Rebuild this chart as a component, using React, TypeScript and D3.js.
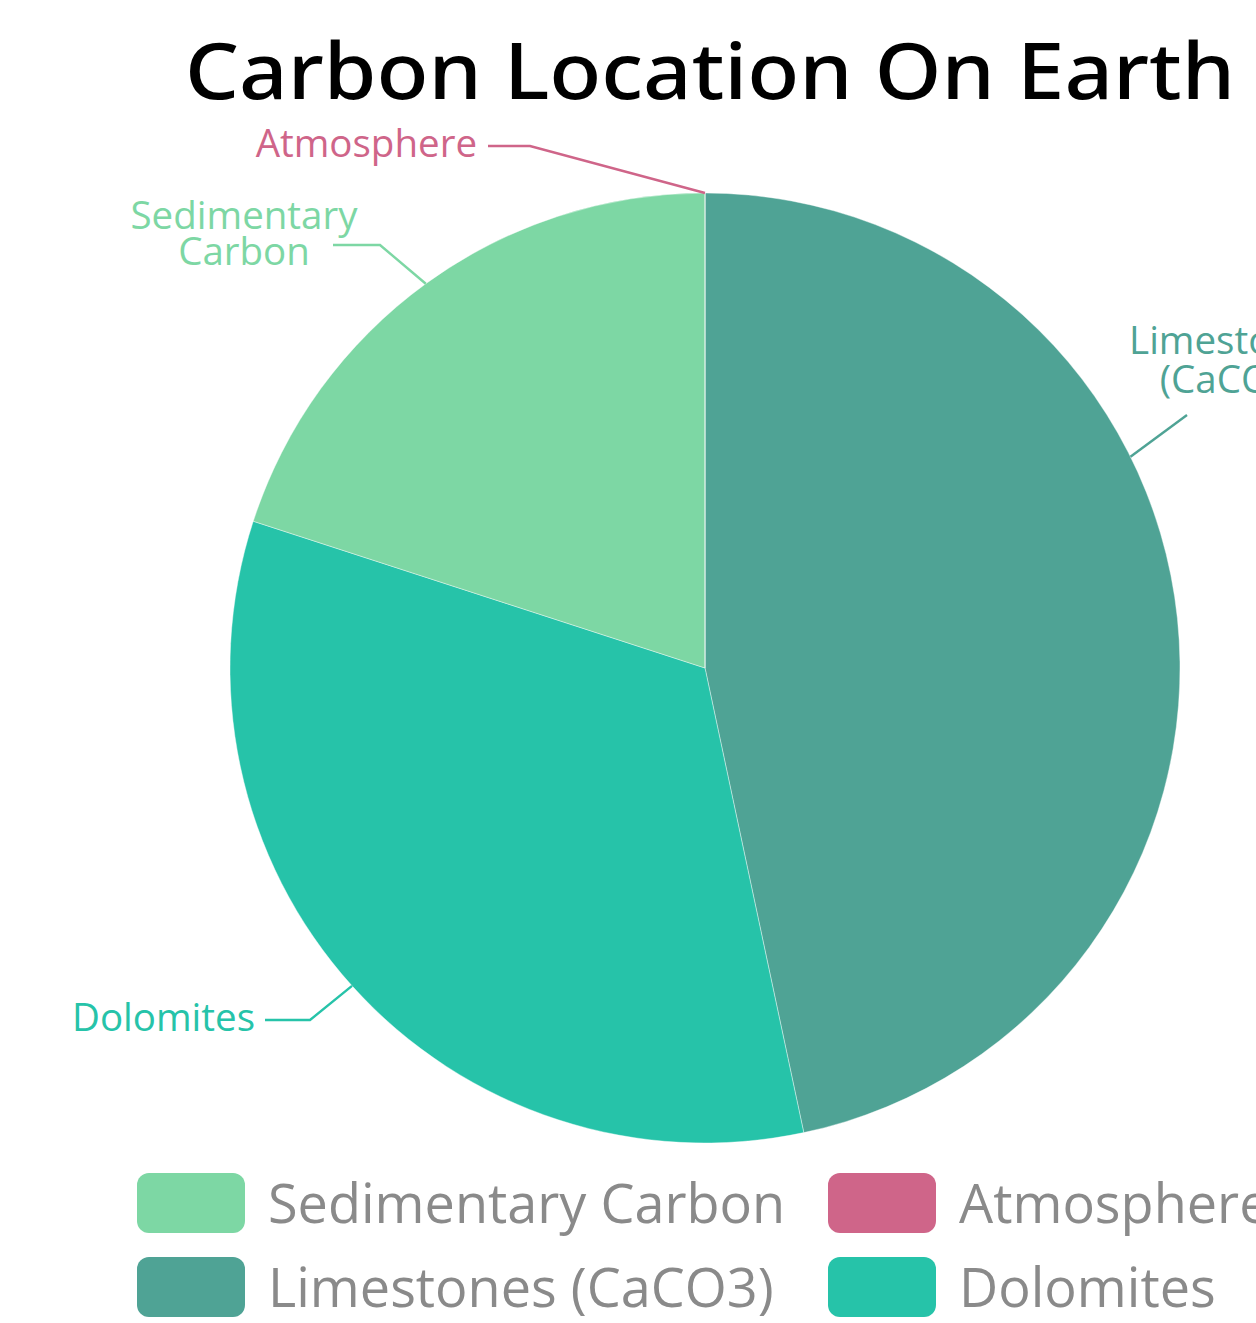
import React from "react";
import * as d3 from "d3";

// Carbon stocks (GtC) by reservoir, drawn clockwise from 12 o'clock
const SLICE_NAMES = ["Limestones (CaCO3)", "Dolomites", "Sedimentary Carbon", "Atmosphere"];
const SLICE_VALUES = [35000000, 25000000, 15000000, 720];

// Legend reads row by row, two columns
const LEGEND_NAMES = ["Sedimentary Carbon", "Atmosphere", "Limestones (CaCO3)", "Dolomites"];

const COLORS: Record<string, string> = {
  "Sedimentary Carbon": "#7dd7a4",
  Atmosphere: "#cf6589",
  "Limestones (CaCO3)": "#4fa395",
  Dolomites: "#26c3a9",
};

const TITLE = "Carbon Location On Earth";

const W = 1256;
const H = 1323;
const CX = 705;
const CY = 668;
const R = 475;

// Outside-label layout: elbow point, end of leader, text placement
type LabelLayout = {
  lines: string[];
  angleDeg?: number; // leader start angle when shifted off the slice middle
  bend: [number, number];
  endX: number;
  textX: number;
  anchor: "start" | "middle" | "end";
  baselines: number[];
};

const LABELS: Record<string, LabelLayout> = {
  Atmosphere: {
    lines: ["Atmosphere"],
    bend: [530, 146],
    endX: 488,
    textX: 477,
    anchor: "end",
    baselines: [157],
  },
  "Sedimentary Carbon": {
    lines: ["Sedimentary", "Carbon"],
    bend: [380, 245],
    endX: 333,
    textX: 244,
    anchor: "middle",
    baselines: [229, 265],
  },
  "Limestones (CaCO3)": {
    lines: ["Limestones", "(CaCO3)"],
    angleDeg: 63.6,
    bend: [1187, 415],
    endX: 1187,
    textX: 1232,
    anchor: "middle",
    baselines: [354, 393],
  },
  Dolomites: {
    lines: ["Dolomites"],
    bend: [310, 1020],
    endX: 265,
    textX: 255,
    anchor: "end",
    baselines: [1031],
  },
};

const LABEL_FONT = "'Open Sans', 'Noto Sans', sans-serif";

export default function App() {
  const data = SLICE_NAMES.map((name, i) => ({ name, value: SLICE_VALUES[i] }));
  const pie = d3
    .pie<{ name: string; value: number }>()
    .sort(null)
    .value((d) => d.value)
    .startAngle(0)
    .endAngle(2 * Math.PI);
  const arcs = pie(data);
  const arc = d3
    .arc<d3.PieArcDatum<{ name: string; value: number }>>()
    .innerRadius(0)
    .outerRadius(R);

  const legendX = d3.scaleOrdinal<number, number>().domain([0, 1]).range([137, 828]);
  const legendY = d3.scaleOrdinal<number, number>().domain([0, 1]).range([1173, 1257]);

  return (
    <svg
      width={W}
      height={H}
      style={{ position: "absolute", left: 0, top: 0, background: "#fff" }}
    >
      <rect width={W} height={H} fill="#fff" />
      <text
        x={710}
        y={99}
        textAnchor="middle"
        fontFamily="'Noto Sans', 'Open Sans', sans-serif"
        fontWeight={500}
        fontSize={78}
        textLength={1050}
        lengthAdjust="spacingAndGlyphs"
        fill="#000"
      >
        {TITLE}
      </text>

      <g transform={`translate(${CX},${CY})`}>
        {arcs.map((a) => (
          <path
            key={a.data.name}
            d={arc(a) || ""}
            fill={COLORS[a.data.name]}
            stroke="#ffffff"
            strokeWidth={0.8}
            strokeOpacity={0.5}
          />
        ))}
      </g>

      {arcs.map((a) => {
        const cfg = LABELS[a.data.name];
        const ang =
          cfg.angleDeg !== undefined
            ? (cfg.angleDeg * Math.PI) / 180
            : (a.startAngle + a.endAngle) / 2;
        const sx = CX + R * Math.sin(ang);
        const sy = CY - R * Math.cos(ang);
        const color = COLORS[a.data.name];
        const pts: [number, number][] = [
          [sx, sy],
          cfg.bend,
          [cfg.endX, cfg.bend[1]],
        ];
        return (
          <g key={`lbl-${a.data.name}`}>
            <path
              d={d3.line()(pts) || ""}
              fill="none"
              stroke={color}
              strokeWidth={2.4}
            />
            {cfg.lines.map((ln, j) => (
              <text
                key={ln}
                x={cfg.textX}
                y={cfg.baselines[j]}
                textAnchor={cfg.anchor}
                fontFamily={LABEL_FONT}
                fontSize={38.5}
                fill={color}
              >
                {ln}
              </text>
            ))}
          </g>
        );
      })}

      {LEGEND_NAMES.map((name, i) => {
        const col = i % 2;
        const row = Math.floor(i / 2);
        const x = legendX(col);
        const y = legendY(row);
        return (
          <g key={`leg-${name}`}>
            <rect
              x={x}
              y={y}
              width={108}
              height={60}
              rx={12}
              ry={12}
              fill={COLORS[name]}
            />
            <text
              x={x + 131}
              y={y + 50}
              fontFamily={LABEL_FONT}
              fontSize={54}
              fill="#8a8a8a"
            >
              {name}
            </text>
          </g>
        );
      })}
    </svg>
  );
}
